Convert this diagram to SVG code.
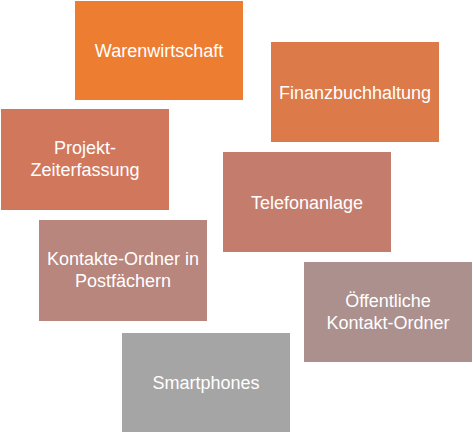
<svg xmlns="http://www.w3.org/2000/svg" width="473" height="434" viewBox="0 0 473 434">
<style>
.t{font-family:"Liberation Sans",Arial,sans-serif;font-size:18px;fill:#fff;text-anchor:middle}
</style>
<rect width="473" height="434" fill="#fff"/>
<g id="connectors"></g>
<g id="warenwirtschaft"><rect x="75" y="1" width="168" height="99" fill="#ED7D31"/><text class="t" x="159" y="57">Warenwirtschaft</text></g>
<g id="finanzbuchhaltung"><rect x="271" y="42" width="168" height="100" fill="#DC7A4A"/><text class="t" x="355" y="98.5">Finanzbuchhaltung</text></g>
<g id="projekt"><rect x="1" y="109" width="168" height="101" fill="#D1785C"/><text class="t" x="85" y="154">Projekt-</text><text class="t" x="85" y="176">Zeiterfassung</text></g>
<g id="telefonanlage"><rect x="223" y="152" width="168" height="100" fill="#C47D6D"/><text class="t" x="307" y="208.5">Telefonanlage</text></g>
<g id="kontakte"><rect x="39" y="220" width="168" height="101" fill="#B8867D"/><text class="t" x="123" y="265">Kontakte-Ordner in</text><text class="t" x="123" y="287">Postfächern</text></g>
<g id="oeffentliche"><rect x="304" y="262" width="168" height="100" fill="#AB908E"/><text class="t" x="388" y="307">Öffentliche</text><text class="t" x="388" y="329">Kontakt-Ordner</text></g>
<g id="smartphones"><rect x="122" y="333" width="168" height="99" fill="#A5A5A5"/><text class="t" x="206" y="389">Smartphones</text></g>
</svg>
